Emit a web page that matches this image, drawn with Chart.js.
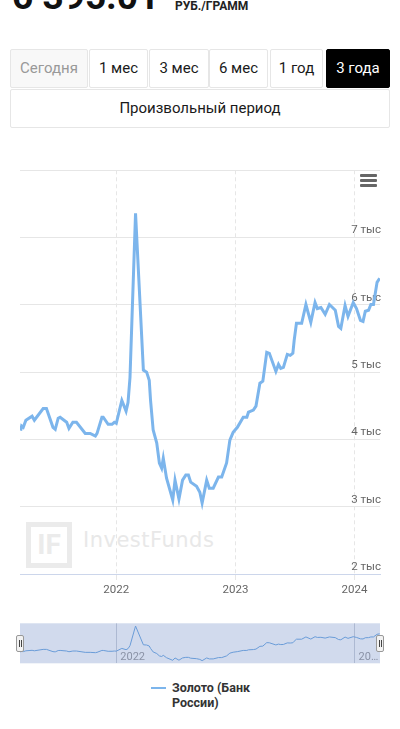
<!DOCTYPE html>
<html lang="ru">
<head>
<meta charset="utf-8">
<script src="https://cdn.jsdelivr.net/npm/chart.js"></script>
<style>
body { margin:0; width:400px; height:729px; overflow:hidden; background:#fff; font-family:Roboto, sans-serif; position:relative; }
.abs { position:absolute; }
#price { left:12px; top:-22px; font-size:37px; font-weight:700; color:#111; line-height:37px; white-space:nowrap; }
#unit { left:175px; top:-1px; font-size:12px; font-weight:700; color:#222; line-height:14px; white-space:nowrap; }
.btn { position:absolute; top:49px; height:39px; box-sizing:border-box; border:1px solid #e6e6e6; border-radius:2px; background:#fff; color:#1a1a1a; font-size:15px; line-height:37px; text-align:center; white-space:nowrap; }
.btn.off { color:#999; background:#f8f8f8; }
.btn.on { background:#000; color:#fff; border-color:#000; }
#custom { top:89px; height:39px; }
.bar { position:absolute; left:360px; width:17px; height:3px; background:#666; border-radius:1px; }
#logo { left:26px; top:522px; width:46px; height:46px; box-sizing:border-box; border:5px solid #ebebeb; color:#ebebeb; font-size:28px; font-weight:700; line-height:36px; text-align:center; }
#brand { left:83px; top:528px; font-family:'DejaVu Sans'; font-size:21px; letter-spacing:0.5px; color:#e8e8e8; white-space:nowrap; }
#main { left:0; top:150px; }
#nav { left:0; top:615px; }
.handle { position:absolute; top:635px; width:8px; height:17px; box-sizing:border-box; background:#f2f2f2; border:1px solid #999; border-radius:2px; }
.handle::before, .handle::after { content:''; position:absolute; top:4px; width:1px; height:7px; background:#444; }
.handle::before { left:2px; } .handle::after { left:4px; }
#legline { left:151px; top:687px; width:15px; height:2px; background:#7cb5ec; }
#legtext { left:172px; top:680px; font-size:12.5px; font-weight:700; color:#333; line-height:15px; white-space:nowrap; }
</style>
</head>
<body>
<div id="price" class="abs">6 395.01</div>
<div id="unit" class="abs">РУБ./ГРАММ</div>

<div class="btn off" style="left:10px;width:78px">Сегодня</div>
<div class="btn" style="left:89px;width:59px">1 мес</div>
<div class="btn" style="left:149px;width:60px">3 мес</div>
<div class="btn" style="left:209px;width:59px">6 мес</div>
<div class="btn" style="left:270px;width:53px">1 год</div>
<div class="btn on" style="left:326px;width:64px">3 года</div>
<div class="btn" id="custom" style="left:10px;width:380px">Произвольный период</div>

<div id="logo" class="abs">IF</div>
<div id="brand" class="abs">InvestFunds</div>

<canvas id="main" class="abs" width="400" height="452"></canvas>
<div class="bar" style="top:174px"></div>
<div class="bar" style="top:179px"></div>
<div class="bar" style="top:184px"></div>

<canvas id="nav" class="abs" width="400" height="55"></canvas>
<div class="handle" style="left:16px"></div>
<div class="handle" style="left:376px"></div>

<div id="legline" class="abs"></div>
<div id="legtext" class="abs">Золото (Банк<br>России)</div>

<script>
// gold price, Bank of Russia, rub per gram
dates = ['2021-03-14','2021-03-17','2021-03-22','2021-03-30','2021-04-18','2021-04-25','2021-05-22','2021-06-01',
    '2021-06-21','2021-06-28','2021-07-07','2021-07-13','2021-08-02','2021-08-09','2021-08-21','2021-09-01',
    '2021-09-28','2021-10-13','2021-10-29','2021-11-03','2021-11-18','2021-11-22','2021-12-07','2021-12-19',
    '2021-12-26','2022-01-01','2022-01-18','2022-01-31','2022-02-06','2022-02-12','2022-03-01','2022-03-25',
    '2022-04-04','2022-04-12','2022-04-16','2022-04-24','2022-05-05','2022-05-13','2022-05-20','2022-05-25',
    '2022-06-04','2022-06-23','2022-06-30','2022-07-12','2022-07-23','2022-08-02','2022-08-10','2022-08-17',
    '2022-09-04','2022-09-14','2022-09-21','2022-10-05','2022-10-13','2022-10-25','2022-11-10','2022-11-20',
    '2022-12-05','2022-12-15','2022-12-25','2023-01-07','2023-01-25','2023-02-05','2023-02-10','2023-02-25',
    '2023-03-05','2023-03-17','2023-03-26','2023-04-07','2023-04-15','2023-05-05','2023-05-13','2023-05-20',
    '2023-05-28','2023-06-09','2023-06-18','2023-06-26','2023-06-30','2023-07-07','2023-07-23','2023-08-05',
    '2023-08-20','2023-09-02','2023-09-09','2023-09-20','2023-10-03','2023-10-16','2023-11-03','2023-11-13',
    '2023-11-20','2023-12-03','2023-12-12','2023-12-28','2024-01-07','2024-01-19','2024-01-27','2024-02-03',
    '2024-02-13','2024-02-20','2024-02-28','2024-03-10','2024-03-18'];
goldPrice = [4130,4200,4180,4285,4345,4285,4460,4460,
    4180,4150,4315,4330,4255,4165,4255,4255,
    4090,4090,4050,4090,4330,4330,4225,4225,
    4255,4240,4580,4420,4550,4920,7360,5030,
    5000,4880,4580,4140,3945,3650,3575,3720,
    3425,3100,3395,3115,3395,3470,3470,3365,
    3305,3215,3055,3395,3275,3275,3440,3440,
    3650,3990,4105,4180,4330,4330,4405,4435,
    4495,4835,4865,5295,5280,5010,5115,5055,
    5070,5265,5250,5280,5470,5725,5725,6005,
    5740,6035,5945,5960,5860,6005,5920,5680,
    5650,5990,5830,6035,5945,5770,5755,5905,
    5920,6005,6005,6335,6395];

rangeStart = '2021-03-12';
rangeEnd = '2024-03-19';
yearTicks = ['2022-01-01','2023-01-01','2024-01-01'];
yearLabels = ['2022','2023','2024'];
navTicks = ['2022-01-01','2024-01-01'];
navLabels = ['2022','20…'];

Chart.defaults.font.family = 'Roboto';

function dayOf(s) {
    return (Date.parse(s) - Date.parse('2022-01-01')) / 86400000;
}

points = dates.map((d, i) => ({x: dayOf(d), y: goldPrice[i]}));

new Chart(document.getElementById('main'), {
    type: 'line',
    data: {
        datasets: [{
            data: points,
            borderColor: '#7cb5ec',
            borderWidth: 3,
            pointRadius: 0,
            tension: 0
        }]
    },
    options: {
        responsive: false,
        animation: false,
        layout: {padding: {top: 20.3, left: 20, right: 20, bottom: 2}},
        scales: {
            x: {
                type: 'linear',
                min: dayOf(rangeStart),
                max: dayOf(rangeEnd),
                afterBuildTicks: s => { s.ticks = yearTicks.map(d => ({value: dayOf(d)})); },
                afterFit: s => { s.height = 26; },
                ticks: {
                    callback: (v, i) => yearLabels[i],
                    color: '#666',
                    font: {size: 11.5},
                    padding: 3,
                    maxRotation: 0,
                    autoSkip: false
                },
                grid: {color: '#e6e6e6', tickLength: 6},
                border: {color: '#ccd6eb', dash: [4, 3]}
            },
            y: {
                position: 'right',
                min: 2000,
                max: 8000,
                afterFit: s => { s.width = 0; },
                ticks: {
                    stepSize: 1000,
                    mirror: true,
                    padding: 1,
                    labelOffset: -7,
                    color: '#666',
                    font: {size: 11.5},
                    callback: v => v == 8000 ? '' : (v / 1000) + ' тыс'
                },
                grid: {color: '#e6e6e6', drawTicks: false},
                border: {display: false}
            }
        },
        plugins: {
            legend: {display: false},
            tooltip: {enabled: false}
        }
    }
});

navMask = {
    id: 'navMask',
    beforeDraw(chart) {
        const {ctx, chartArea: a} = chart;
        ctx.save();
        ctx.fillStyle = 'rgba(102,133,194,0.3)';
        ctx.fillRect(a.left, a.top, a.right - a.left, a.bottom - a.top);
        ctx.restore();
    },
    afterDraw(chart) {
        const {ctx, chartArea: a} = chart;
        const x = chart.scales.x;
        ctx.save();
        ctx.font = '11px Roboto';
        ctx.fillStyle = '#8a92a6';
        navLabels.forEach((t, i) => ctx.fillText(t, x.getPixelForValue(dayOf(navTicks[i])) + 4, a.bottom - 3));
        ctx.restore();
    }
};

new Chart(document.getElementById('nav'), {
    type: 'line',
    data: {
        datasets: [{
            data: points,
            borderColor: '#6a9cd8',
            borderWidth: 1,
            pointRadius: 0,
            tension: 0
        }]
    },
    options: {
        responsive: false,
        animation: false,
        layout: {padding: {top: 8.3, left: 20, right: 20, bottom: 6.7}},
        scales: {
            x: {
                type: 'linear',
                min: dayOf(rangeStart),
                max: dayOf(rangeEnd),
                afterBuildTicks: s => { s.ticks = navTicks.map(d => ({value: dayOf(d)})); },
                ticks: {display: false},
                grid: {color: 'rgba(120,135,170,0.4)', drawTicks: false},
                border: {display: false}
            },
            y: {display: false, min: 2730, max: 7700}
        },
        plugins: {
            legend: {display: false},
            tooltip: {enabled: false}
        }
    },
    plugins: [navMask]
});
</script>
</body>
</html>
